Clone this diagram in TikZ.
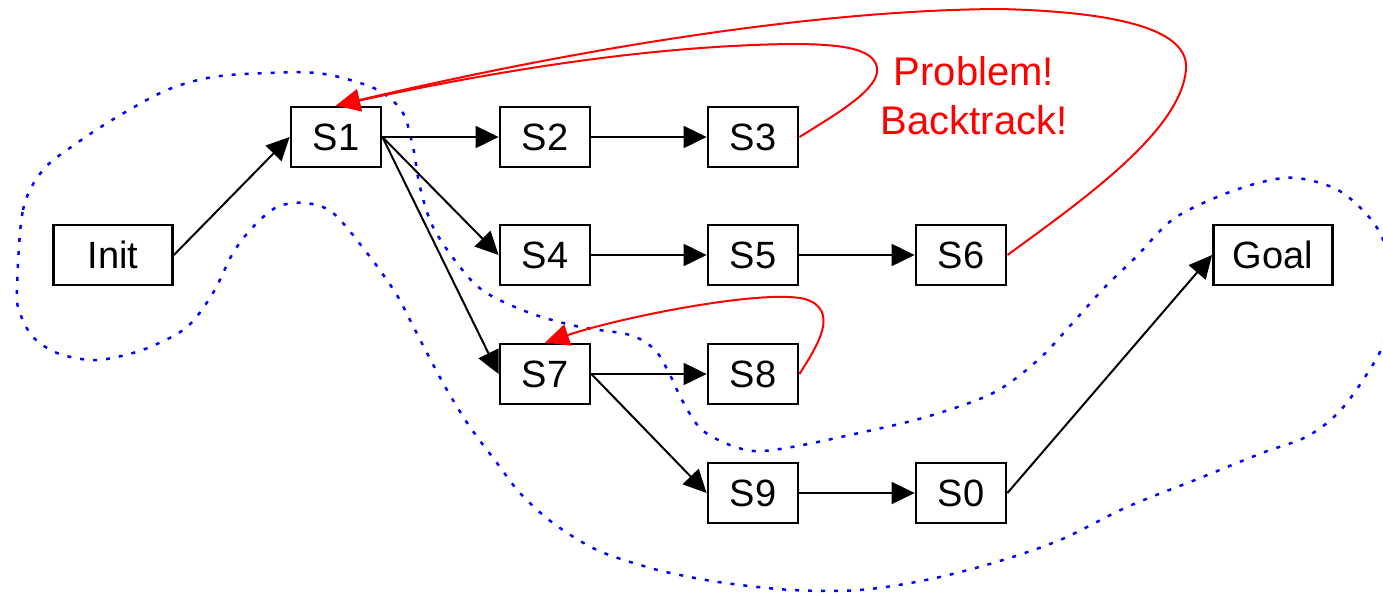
\documentclass[tikz,border=0pt]{standalone}
\usepackage{fontspec}
\setmainfont{Liberation Sans}
\usetikzlibrary{arrows.meta}
\begin{document}
\begin{tikzpicture}[x=1pt,y=-1pt,
  state/.style={draw=black, line width=2.8pt, fill=white, minimum width=90pt,
    minimum height=60pt, inner sep=0pt, font=\fontsize{38}{44}\selectfont},
  widestate/.style={state, minimum width=119pt},
  move/.style={draw=black, line width=2pt, -{Triangle[length=23pt,width=22pt]}},
  back/.style={draw=red, line width=2pt, -{Triangle[length=24pt,width=22pt]}},
  region/.style={draw=blue, line width=2.5pt, dash pattern=on 4pt off 9pt},
  note/.style={text=red, align=center, font=\fontsize{40}{49}\selectfont},
]
\useasboundingbox (0,0) rectangle (1383,595);
\clip (0,0) rectangle (1383,595);

% dotted region around the successful search path
\draw[region] plot[smooth cycle, tension=0.55] coordinates {
  (17,290) (23,210) (43,170) (77,143) (117,117) (167,90) (213,77) (267,73)
  (317,73) (357,82) (383,93) (403,113) (413,147) (420,187) (433,227) (460,267)
  (485,292) (530,313) (580,327) (630,335) (655,350) (670,375) (682,400)
  (700,428) (725,443) (754,451) (792,447) (859,433) (926,417) (993,393)
  (1038,360) (1069,327) (1105,287) (1136,257) (1172,220) (1217,197)
  (1262,182) (1297,178) (1338,190) (1369,217) (1385,245) (1393,290)
  (1385,340) (1365,377) (1338,413) (1306,437) (1262,453) (1195,480)
  (1127,507) (1060,540) (993,563) (926,580) (859,590) (792,590) (725,583)
  (680,575) (647,567) (597,550) (553,523) (520,493) (497,463) (470,427)
  (447,390) (427,353) (410,320) (395,292) (367,253) (333,213) (305,203)
  (277,207) (253,227) (233,253) (213,293) (187,327) (150,347) (117,357)
  (90,360) (57,353) (33,337) (20,313)};

% states
\node[widestate] (Init) at (113,255) {Init};
\node[state] (S1) at (336,137) {S1};
\node[state] (S2) at (545,137) {S2};
\node[state] (S3) at (753,137) {S3};
\node[state] (S4) at (545,255) {S4};
\node[state] (S5) at (753,255) {S5};
\node[state] (S6) at (961,255) {S6};
\node[widestate] (Goal) at (1273,255) {Goal};
\node[state] (S7) at (545,374) {S7};
\node[state] (S8) at (753,374) {S8};
\node[state] (S9) at (753,493) {S9};
\node[state] (S0) at (961,493) {S0};

% forward moves
\draw[move] (Init.east) -- (S1.west);
\draw[move] (S1.east) -- (S2.west);
\draw[move] (S1.east) -- (S4.west);
\draw[move] (S1.east) -- (S7.west);
\draw[move] (S2.east) -- (S3.west);
\draw[move] (S4.east) -- (S5.west);
\draw[move] (S5.east) -- (S6.west);
\draw[move] (S7.east) -- (S8.west);
\draw[move] (S7.east) -- (S9.west);
\draw[move] (S9.east) -- (S0.west);
\draw[move] (S0.east) -- (Goal.west);

% backtracking
\coordinate (loopA1) at (877,68);
\coordinate (loopA2) at (790,44);
\coordinate (loopB1) at (1186,70);
\coordinate (loopB2) at (1000,9);
\coordinate (loopC1) at (805,299);
\draw[back] (S3.east) .. controls (840,112) and (880,88) .. (loopA1)
  .. controls (874,48) and (840,44) .. (loopA2)
  .. controls (650,46) and (500,70) .. (S1.north);
\draw[back] (S6.east) .. controls (1090,195) and (1180,130) .. (loopB1)
  .. controls (1190,30) and (1120,12) .. (loopB2)
  .. controls (800,10) and (550,55) .. (S1.north);
\draw[back] (S8.east) .. controls (818,345) and (840,310) .. (loopC1)
  .. controls (765,289) and (625,316) .. (S7.north);

\node[note] (msg) at (974,96) {Problem!\\Backtrack!};
\end{tikzpicture}
\end{document}
